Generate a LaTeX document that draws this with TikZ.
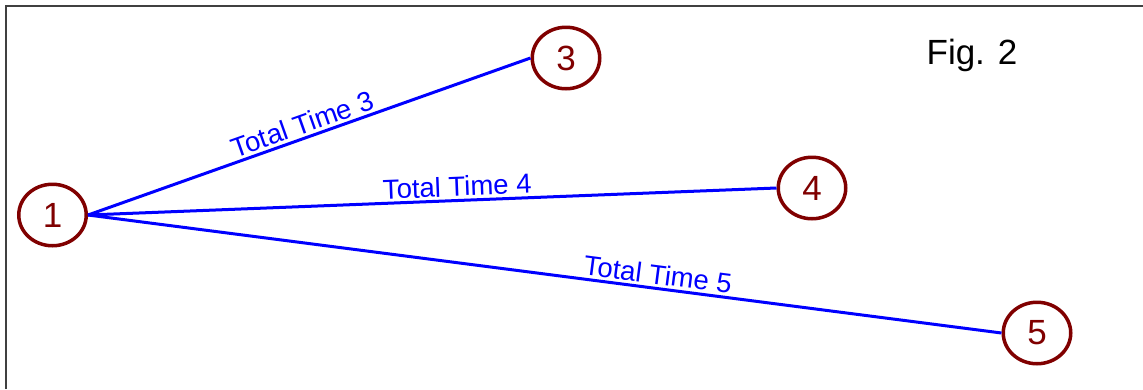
\documentclass[tikz,border=0pt]{standalone}
\usepackage{fontspec}
\setmainfont{Liberation Sans}
\usetikzlibrary{shapes.geometric}
\definecolor{nodered}{HTML}{800000}
\definecolor{edgeblue}{HTML}{0000FF}
\definecolor{framegray}{HTML}{404040}
\begin{document}
\begin{tikzpicture}[x=1pt,y=-1pt,
  statenode/.style={ellipse,draw=nodered,line width=3.5pt,minimum width=67.5pt,minimum height=61.5pt,inner sep=0pt,text=nodered,font=\fontsize{35}{40}\selectfont},
  edgeline/.style={draw=edgeblue,line width=3pt},
  edgelabel/.style={sloped,above,text=edgeblue,font=\fontsize{27.5}{30}\selectfont,inner sep=2.5pt}]
\useasboundingbox (0,0) rectangle (1143,389);
\draw[framegray,line width=2pt] (6,389) -- (6,6) -- (1143,6);
\node[statenode] (n1) at (52.5,215) {1};
\node[statenode] (n3) at (566,58) {3};
\node[statenode] (n4) at (812,188) {4};
\node[statenode] (n5) at (1037,333) {5};
\node[font=\fontsize{35}{40}\selectfont] (fig) at (972,55) {Fig. 2};
\draw[edgeline] (n1.east) -- node[edgelabel,pos=0.495] {Total Time 3} (n3.west);
\draw[edgeline] (n1.east) -- node[edgelabel,pos=0.537] {Total Time 4} (n4.west);
\draw[edgeline] (n1.east) -- node[edgelabel,pos=0.622] {Total Time 5} (n5.west);
\end{tikzpicture}
\end{document}
